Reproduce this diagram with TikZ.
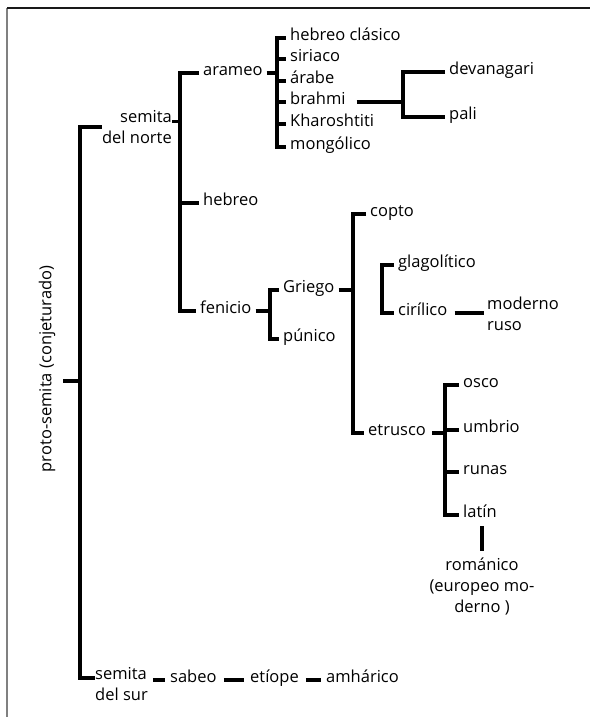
\documentclass[tikz,border=0pt]{standalone}
\usepackage{fontspec}
\setmainfont{Open Sans}
\usetikzlibrary{positioning}

\tikzset{
  rama/.style={line width=3.2pt},
  guion/.style={line width=3.2pt, shorten <=3pt, shorten >=3pt},
  lengua/.style={anchor=west, inner xsep=4pt, inner ysep=0pt,
    text height=1.3ex, text depth=0.3ex, font=\fontsize{16.5}{21}\selectfont},
  bloque/.style={inner sep=0pt, font=\fontsize{16.5}{21}\selectfont}
}

\begin{document}
\begin{tikzpicture}[x=1pt, y=-1pt]
\useasboundingbox (0,0) rectangle (590,717);
% marco
\draw[black!50, line width=1.5pt] (7,717) -- (7,8);
\draw[black!90, line width=1.8pt] (7,8) -- (590,8);

% raiz
\node[bloque, rotate=90] (proto) at (47,369) {proto-semita (conjeturado)};
\coordinate (raiz) at (63,381);
\coordinate (s0) at (80,0);
\coordinate (s1) at (180,0);
\coordinate (s2) at (277,0);
\coordinate (s3) at (403,0);
\coordinate (s4) at (270,0);
\coordinate (s5) at (353,0);
\coordinate (s6) at (382,0);
\coordinate (s7) at (445,0);

\node[bloque, align=right, anchor=east] (norte) at (172,127) {semita\\del norte};
\node[bloque, align=left, anchor=north west] (sur) at (95,667) {semita\\del sur};

% semita del norte
\node[lengua] (arameo) at (199,73) {arameo};
\node[lengua] (hebreo) at (199,203) {hebreo};
\node[lengua] (fenicio) at (196,311) {fenicio};

% arameo
\node[lengua] (hclasico) at (286,38) {hebreo clásico};
\node[lengua] (siriaco) at (286,59) {siriaco};
\node[lengua] (arabe) at (286,81) {árabe};
\node[lengua] (brahmi) at (286,102) {brahmi};
\node[lengua] (kharoshtiti) at (286,124) {Kharoshtiti};
\node[lengua] (mongolico) at (286,147) {mongólico};
\node[lengua] (devanagari) at (445,72) {devanagari};
\node[lengua] (pali) at (445,117) {pali};

% fenicio
\node[lengua] (griego) at (279,290) {Griego};
\node[lengua] (punico) at (279,339) {púnico};
\node[lengua] (copto) at (366,214) {copto};
\node[lengua] (etrusco) at (364,433) {etrusco};
\node[lengua] (glagolitico) at (394,265) {glagolítico};
\node[lengua] (cirilico) at (394,313) {cirílico};
\node[bloque, align=left, anchor=west] (moderno) at (487,314) {moderno\\ruso};

% etrusco
\node[lengua] (osco) at (459,385) {osco};
\node[lengua] (umbrio) at (459,430) {umbrio};
\node[lengua] (runas) at (459,472) {runas};
\node[lengua] (latin) at (459,515) {latín};
\node[bloque, align=center, anchor=north] (romanico) at (482,558) {románico\\(europeo mo-\\derno )};

% semita del sur
\node[lengua] (sabeo) at (166,680) {sabeo};
\node[lengua] (etiope) at (246,680) {etíope};
\node[lengua] (amharico) at (322,680) {amhárico};

% ramas
\draw[rama] (raiz) -- (raiz -| s0);
\draw[rama] (norte.west) -- (norte.west -| s0) |- ([yshift=-11pt]sur.north west);
\draw[rama] ([yshift=-11pt]norte.north east) -- ([yshift=-11pt]norte.north east -| s1);
\draw[rama] (arameo.west) -- (arameo.west -| s1) |- (fenicio.west);
\draw[rama] (hebreo.west -| s1) -- (hebreo.west);

\draw[rama] (arameo.east) -- (arameo.east -| s2);
\draw[rama] (hclasico.west) -- (hclasico.west -| s2) |- (mongolico.west);
\foreach \n in {siriaco,arabe,brahmi,kharoshtiti}
  \draw[rama] (\n.west -| s2) -- (\n.west);
\draw[rama, shorten <=7pt] (brahmi.east) -- (brahmi.east -| s3);
\draw[rama] (devanagari.west) -- (devanagari.west -| s3) |- (pali.west);

\draw[rama] (fenicio.east) -- (fenicio.east -| s4);
\draw[rama] (griego.west) -- (griego.west -| s4) |- (punico.west);
\draw[rama] (griego.east) -- (griego.east -| s5);
\draw[rama] (copto.west) -- (copto.west -| s5) |- (etrusco.west);
\draw[rama] (glagolitico.west) -- (glagolitico.west -| s6) |- (cirilico.west);
\draw[guion] (cirilico.east) -- (moderno.west |- cirilico.east);

\draw[rama, shorten <=2pt] (etrusco.east) -- (etrusco.east -| s7);
\draw[rama] (osco.west) -- (osco.west -| s7) |- (latin.west);
\foreach \n in {umbrio,runas}
  \draw[rama] (\n.west -| s7) -- (\n.west);
\draw[guion, shorten <=7pt, shorten >=7pt] (latin.south -| romanico.north) -- (romanico.north);

\draw[guion, shorten <=5pt, shorten >=1pt] (sur.east |- sabeo.west) -- (sabeo.west);
\draw[guion, shorten >=2pt] (sabeo.east) -- (etiope.west);
\draw[guion, shorten >=1pt] (etiope.east) -- (amharico.west);
\end{tikzpicture}
\end{document}
